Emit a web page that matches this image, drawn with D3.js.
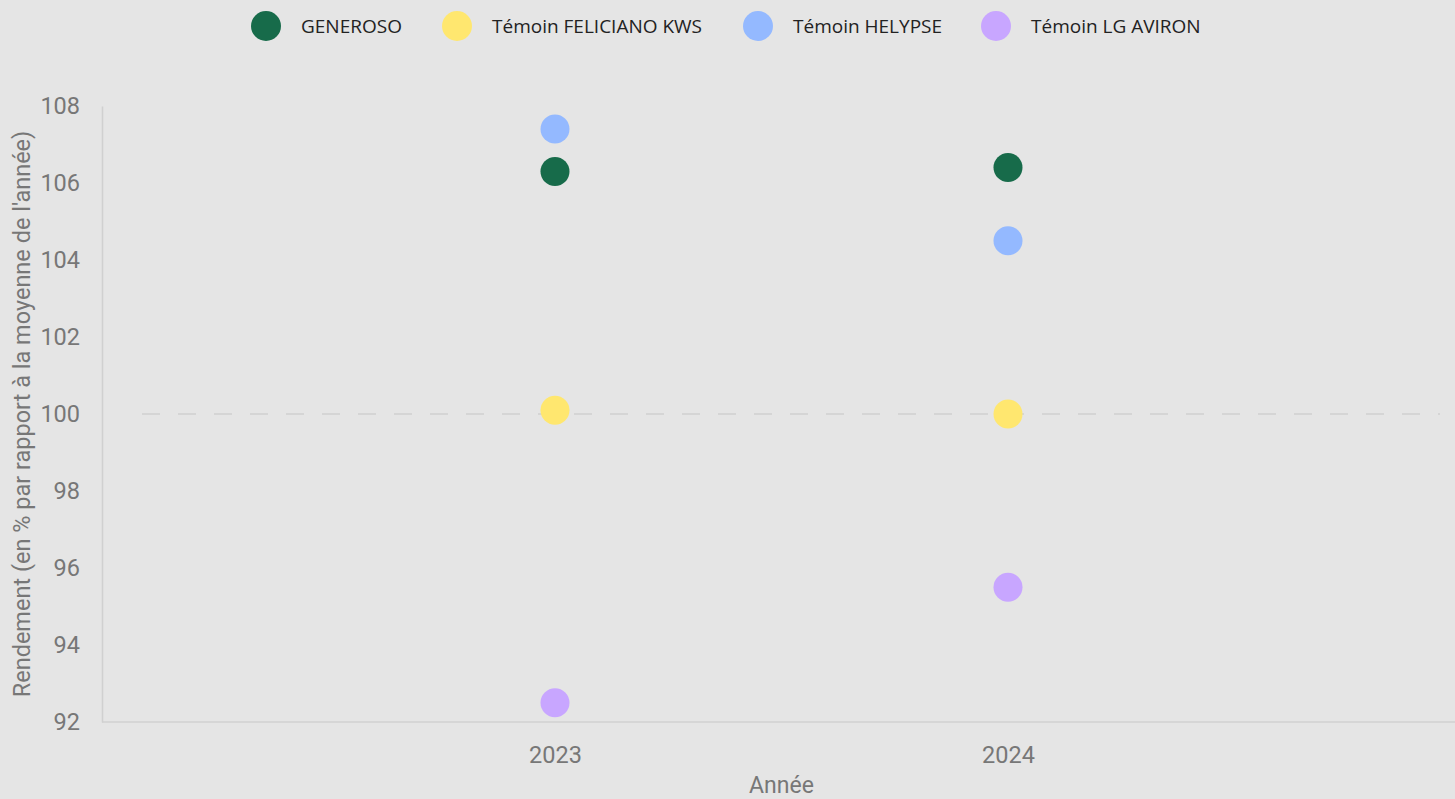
<!DOCTYPE html>
<html>
<head>
<meta charset="utf-8">
<script src="https://cdn.jsdelivr.net/npm/d3@7"></script>
<style>
  body { margin: 0; background: #e5e5e5; overflow: hidden; }
</style>
</head>
<body>
<div id="chart"></div>
<script>
const years = ['2023', '2024'];
const seriesNames = ['GENEROSO', 'Témoin FELICIANO KWS', 'Témoin HELYPSE', 'Témoin LG AVIRON'];
const seriesColors = ['#176b4a', '#ffe76f', '#94b9ff', '#c8a6ff'];
const generoso = [106.3, 106.4];
const feliciano = [100.1, 100.0];
const helypse = [107.4, 104.5];
const aviron = [92.5, 95.5];
const yTicks = [92, 94, 96, 98, 100, 102, 104, 106, 108];

const width = 1455, height = 799;
const margin = { top: 106, left: 102, bottom: 77 };

const svg = d3.select('#chart')
    .append('svg')
    .attr('width', width)
    .attr('height', height);

const x = d3.scalePoint()
    .domain(years)
    .range([margin.left, 1461])
    .padding(1);

const y = d3.scaleLinear()
    .domain([92, 108])
    .range([height - margin.bottom, margin.top]);

// axes
const yAxis = svg.append('g')
    .attr('transform', 'translate(' + margin.left + ',0)')
    .call(d3.axisLeft(y).tickValues(yTicks).tickSize(0).tickPadding(22));
yAxis.select('.domain').attr('stroke', '#d0d0d0').attr('stroke-width', 1.5);
yAxis.selectAll('text')
    .attr('fill', '#777')
    .style('font-family', 'Roboto, sans-serif')
    .style('font-size', '23.5px');

const xAxis = svg.append('g')
    .attr('transform', 'translate(0,' + (height - margin.bottom) + ')')
    .call(d3.axisBottom(x).tickSize(0).tickPadding(24));
xAxis.select('.domain').attr('stroke', '#d0d0d0').attr('stroke-width', 1.5)
    .attr('d', 'M' + margin.left + ',0H' + width);
xAxis.selectAll('text')
    .attr('fill', '#777')
    .style('font-family', 'Roboto, sans-serif')
    .style('font-size', '23.5px');

// reference line at 100
svg.append('line')
    .attr('x1', 142)
    .attr('x2', 1440)
    .attr('y1', y(100))
    .attr('y2', y(100))
    .attr('stroke', '#cfcfcf')
    .attr('stroke-width', 1.5)
    .attr('stroke-dasharray', '18,18');

// axis titles
svg.append('text')
    .attr('transform', 'translate(30,' + ((margin.top + height - margin.bottom) / 2) + ')rotate(-90)')
    .attr('text-anchor', 'middle')
    .attr('fill', '#777')
    .style('font-family', 'Roboto, sans-serif')
    .style('font-size', '23.5px')
    .text("Rendement (en % par rapport à la moyenne de l'année)");

svg.append('text')
    .attr('x', x('2023') / 2 + x('2024') / 2)
    .attr('y', 793)
    .attr('text-anchor', 'middle')
    .attr('fill', '#777')
    .style('font-family', 'Roboto, sans-serif')
    .style('font-size', '23px')
    .text('Année');

// points
const series = [generoso, feliciano, helypse, aviron];
series.forEach(function(values, i) {
    svg.selectAll('.dot' + i)
        .data(values)
        .enter()
        .append('circle')
        .attr('class', 'dot' + i)
        .attr('cx', function(d, j) { return x(years[j]); })
        .attr('cy', function(d) { return y(d); })
        .attr('r', 14.5)
        .attr('fill', seriesColors[i]);
});

// legend
const legendX = [266, 457, 758, 996];
const legend = svg.selectAll('.legend')
    .data(seriesNames)
    .enter()
    .append('g')
    .attr('class', 'legend')
    .attr('transform', function(d, i) { return 'translate(' + legendX[i] + ',26)'; });

legend.append('circle')
    .attr('r', 15)
    .attr('fill', function(d, i) { return seriesColors[i]; });

legend.append('text')
    .attr('x', 35)
    .attr('dy', '0.35em')
    .attr('fill', '#222')
    .style('font-family', '"Open Sans", sans-serif')
    .style('font-size', '19px')
    .text(function(d) { return d; });
</script>
</body>
</html>
